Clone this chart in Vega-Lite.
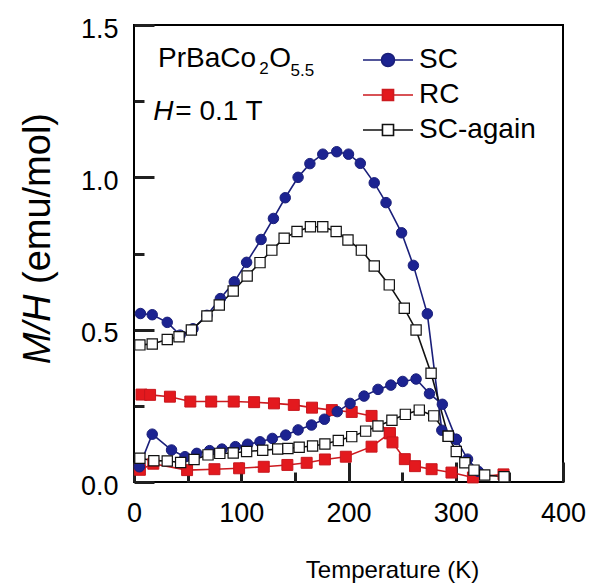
{
  "$schema": "https://vega.github.io/schema/vega-lite/v6.json",
  "autosize": "none",
  "width": 429,
  "height": 457,
  "padding": {"left": 134, "top": 25, "right": 26, "bottom": 102},
  "background": "white",
  "config": {
    "view": {"stroke": "black", "strokeWidth": 2},
    "font": "Liberation Sans"
  },
  "data": {"values": [
    {"s":"SC","b":"SCu","T":6,"M":0.553},{"s":"SC","b":"SCu","T":17,"M":0.549},{"s":"SC","b":"SCu","T":31,"M":0.524},{"s":"SC","b":"SCu","T":43,"M":0.482},{"s":"SC","b":"SCu","T":55,"M":0.503},{"s":"SC","b":"SCu","T":68,"M":0.547},{"s":"SC","b":"SCu","T":80.5,"M":0.602},{"s":"SC","b":"SCu","T":93.5,"M":0.657},{"s":"SC","b":"SCu","T":105,"M":0.721},{"s":"SC","b":"SCu","T":118.5,"M":0.796},{"s":"SC","b":"SCu","T":130,"M":0.865},{"s":"SC","b":"SCu","T":141,"M":0.933},{"s":"SC","b":"SCu","T":153,"M":1.0},{"s":"SC","b":"SCu","T":164,"M":1.045},{"s":"SC","b":"SCu","T":176,"M":1.076},{"s":"SC","b":"SCu","T":189,"M":1.084},{"s":"SC","b":"SCu","T":200,"M":1.076},{"s":"SC","b":"SCu","T":211,"M":1.046},{"s":"SC","b":"SCu","T":224,"M":0.982},{"s":"SC","b":"SCu","T":235,"M":0.917},{"s":"SC","b":"SCu","T":249.5,"M":0.818},{"s":"SC","b":"SCu","T":260.5,"M":0.711},{"s":"SC","b":"SCu","T":273.5,"M":0.552},{"s":"SC","b":"SCu","T":287,"M":0.17},{"s":"SC","b":"SCu","T":300.5,"M":0.14},{"s":"SC","b":"SCu","T":311,"M":0.075},{"s":"SC","b":"SCu","T":321,"M":0.035},
    {"s":"SC","b":"SCl","T":5,"M":0.05},{"s":"SC","b":"SCl","T":17,"M":0.157},{"s":"SC","b":"SCl","T":35,"M":0.105},{"s":"SC","b":"SCl","T":47.5,"M":0.083},{"s":"SC","b":"SCl","T":58.5,"M":0.094},{"s":"SC","b":"SCl","T":70.5,"M":0.103},{"s":"SC","b":"SCl","T":82,"M":0.108},{"s":"SC","b":"SCl","T":94.5,"M":0.116},{"s":"SC","b":"SCl","T":106,"M":0.124},{"s":"SC","b":"SCl","T":117.5,"M":0.132},{"s":"SC","b":"SCl","T":129,"M":0.143},{"s":"SC","b":"SCl","T":141.5,"M":0.154},{"s":"SC","b":"SCl","T":153,"M":0.171},{"s":"SC","b":"SCl","T":165.5,"M":0.187},{"s":"SC","b":"SCl","T":177.5,"M":0.206},{"s":"SC","b":"SCl","T":189.5,"M":0.231},{"s":"SC","b":"SCl","T":201.5,"M":0.258},{"s":"SC","b":"SCl","T":214.5,"M":0.282},{"s":"SC","b":"SCl","T":227.5,"M":0.304},{"s":"SC","b":"SCl","T":239.5,"M":0.318},{"s":"SC","b":"SCl","T":250.5,"M":0.33},{"s":"SC","b":"SCl","T":263,"M":0.338},{"s":"SC","b":"SCl","T":275.5,"M":0.29},{"s":"SC","b":"SCl","T":287.5,"M":0.255},{"s":"SC","b":"SCl","T":300.5,"M":0.14},
    {"s":"RC","b":"Ru","T":7,"M":0.287},{"s":"RC","b":"Ru","T":15,"M":0.286},{"s":"RC","b":"Ru","T":33.5,"M":0.28},{"s":"RC","b":"Ru","T":52.5,"M":0.264},{"s":"RC","b":"Ru","T":72,"M":0.264},{"s":"RC","b":"Ru","T":93,"M":0.264},{"s":"RC","b":"Ru","T":112,"M":0.262},{"s":"RC","b":"Ru","T":130.5,"M":0.258},{"s":"RC","b":"Ru","T":149,"M":0.253},{"s":"RC","b":"Ru","T":166,"M":0.244},{"s":"RC","b":"Ru","T":184.5,"M":0.236},{"s":"RC","b":"Ru","T":203,"M":0.23},{"s":"RC","b":"Ru","T":221.5,"M":0.217},{"s":"RC","b":"Ru","T":238.5,"M":0.16},
    {"s":"RC","b":"Rl","T":5.5,"M":0.04},{"s":"RC","b":"Rl","T":18,"M":0.06},{"s":"RC","b":"Rl","T":49.5,"M":0.039},{"s":"RC","b":"Rl","T":75,"M":0.042},{"s":"RC","b":"Rl","T":98,"M":0.045},{"s":"RC","b":"Rl","T":121,"M":0.05},{"s":"RC","b":"Rl","T":143,"M":0.056},{"s":"RC","b":"Rl","T":161,"M":0.063},{"s":"RC","b":"Rl","T":178,"M":0.074},{"s":"RC","b":"Rl","T":197.5,"M":0.083},{"s":"RC","b":"Rl","T":221.5,"M":0.116},{"s":"RC","b":"Rl","T":238.5,"M":0.16},{"s":"RC","b":"Rl","T":241,"M":0.13},{"s":"RC","b":"Rl","T":252.5,"M":0.075},{"s":"RC","b":"Rl","T":262,"M":0.052},{"s":"RC","b":"Rl","T":277.5,"M":0.042},{"s":"RC","b":"Rl","T":296,"M":0.031},{"s":"RC","b":"Rl","T":316,"M":0.015},{"s":"RC","b":"Rl","T":344.5,"M":0.025},
    {"s":"SC-again","b":"Au","T":5.5,"M":0.45},{"s":"SC-again","b":"Au","T":17,"M":0.453},{"s":"SC-again","b":"Au","T":31,"M":0.468},{"s":"SC-again","b":"Au","T":42,"M":0.477},{"s":"SC-again","b":"Au","T":53.5,"M":0.499},{"s":"SC-again","b":"Au","T":68,"M":0.545},{"s":"SC-again","b":"Au","T":79.5,"M":0.581},{"s":"SC-again","b":"Au","T":92.5,"M":0.627},{"s":"SC-again","b":"Au","T":105.5,"M":0.676},{"s":"SC-again","b":"Au","T":117.5,"M":0.72},{"s":"SC-again","b":"Au","T":128.5,"M":0.761},{"s":"SC-again","b":"Au","T":140,"M":0.8},{"s":"SC-again","b":"Au","T":152,"M":0.822},{"s":"SC-again","b":"Au","T":164.5,"M":0.838},{"s":"SC-again","b":"Au","T":176,"M":0.838},{"s":"SC-again","b":"Au","T":188.5,"M":0.822},{"s":"SC-again","b":"Au","T":199.5,"M":0.794},{"s":"SC-again","b":"Au","T":212,"M":0.761},{"s":"SC-again","b":"Au","T":224,"M":0.709},{"s":"SC-again","b":"Au","T":238,"M":0.647},{"s":"SC-again","b":"Au","T":252,"M":0.57},{"s":"SC-again","b":"Au","T":263,"M":0.499},{"s":"SC-again","b":"Au","T":277,"M":0.357},{"s":"SC-again","b":"Au","T":293,"M":0.15},{"s":"SC-again","b":"Au","T":300.5,"M":0.1},{"s":"SC-again","b":"Au","T":308.5,"M":0.063},{"s":"SC-again","b":"Au","T":317,"M":0.039},{"s":"SC-again","b":"Au","T":327,"M":0.023},{"s":"SC-again","b":"Au","T":345,"M":0.017},
    {"s":"SC-again","b":"Al","T":5.5,"M":0.078},{"s":"SC-again","b":"Al","T":18.5,"M":0.07},{"s":"SC-again","b":"Al","T":31,"M":0.069},{"s":"SC-again","b":"Al","T":43.5,"M":0.064},{"s":"SC-again","b":"Al","T":56,"M":0.074},{"s":"SC-again","b":"Al","T":69,"M":0.089},{"s":"SC-again","b":"Al","T":80,"M":0.094},{"s":"SC-again","b":"Al","T":92.5,"M":0.095},{"s":"SC-again","b":"Al","T":105,"M":0.1},{"s":"SC-again","b":"Al","T":120,"M":0.104},{"s":"SC-again","b":"Al","T":134,"M":0.108},{"s":"SC-again","b":"Al","T":143.5,"M":0.11},{"s":"SC-again","b":"Al","T":154,"M":0.114},{"s":"SC-again","b":"Al","T":166.5,"M":0.118},{"s":"SC-again","b":"Al","T":178,"M":0.125},{"s":"SC-again","b":"Al","T":190.5,"M":0.136},{"s":"SC-again","b":"Al","T":203,"M":0.149},{"s":"SC-again","b":"Al","T":216,"M":0.167},{"s":"SC-again","b":"Al","T":227.5,"M":0.184},{"s":"SC-again","b":"Al","T":240.5,"M":0.203},{"s":"SC-again","b":"Al","T":253,"M":0.222},{"s":"SC-again","b":"Al","T":266,"M":0.236},{"s":"SC-again","b":"Al","T":279.5,"M":0.217},{"s":"SC-again","b":"Al","T":293,"M":0.15}
  ]},
  "resolve": {"axis": {"x": "independent", "y": "independent"}},
  "layer": [
    {
      "mark": {"type": "line", "strokeWidth": 1.6},
      "encoding": {
        "x": {"field": "T", "type": "quantitative", "scale": {"domain": [0, 400], "nice": false, "zero": false},
          "axis": {"orient": "bottom", "offset": -20, "values": [0, 100, 200, 300, 400], "domain": false, "grid": false, "tickSize": 20, "tickWidth": 3, "tickColor": "#202020", "labelPadding": 18, "labelFlush": false, "labelFont": "Liberation Sans", "labelColor": "#000000", "labelFontSize": 27, "title": "Temperature (K)", "titleFont": "Liberation Sans", "titleColor": "#000000", "titleFontSize": 24, "titleFontWeight": "normal", "titleX": 258, "titleY": 115, "titleBaseline": "alphabetic", "titleAlign": "center"}},
        "y": {"field": "M", "type": "quantitative", "scale": {"domain": [0, 1.5], "nice": false, "zero": false},
          "axis": {"orient": "left", "offset": -20, "values": [0, 0.5, 1, 1.5], "format": ".1f", "domain": false, "grid": false, "tickSize": 20, "tickWidth": 3, "tickColor": "#202020", "labelPadding": 16, "labelFont": "Liberation Sans", "labelColor": "#000000", "labelFontSize": 27, "labelOffset": 4, "title": "(emu/mol)", "titleFont": "Liberation Sans", "titleColor": "#000000", "titleFontSize": 38, "titleFontWeight": "normal", "titleX": -116, "titleY": 173, "titleAngle": 270, "titleBaseline": "middle", "titleAlign": "center"}},
        "color": {"field": "s", "type": "nominal", "scale": {"domain": ["SC", "RC", "SC-again"], "range": ["#1a1f7a", "#cc1a1f", "#111111"]},
          "legend": {"title": null, "orient": "none", "legendX": 240, "legendY": 21, "padding": 0, "symbolSize": 169, "labelOffset": 17, "labelFontSize": 28, "labelFont": "Liberation Sans", "labelColor": "#000000", "rowPadding": 7, "labelBaseline": "middle",
            "encode": {"symbols": {"update": {
              "shape": {"signal": "datum.value === 'SC' ? 'M-3.85,0H-1M1,0H3.85M1,0A1,1,0,1,1,-1,0A1,1,0,1,1,1,0Z' : 'M-3.85,0H-0.85M0.85,0H3.85M-0.85,-0.85H0.85V0.85H-0.85Z'"},
              "fill": {"signal": "datum.value === 'SC' ? '#1c2391' : datum.value === 'RC' ? '#e3191e' : '#ffffff'"},
              "stroke": {"signal": "datum.value === 'SC' ? '#1a1f7a' : datum.value === 'RC' ? '#cc1a1f' : '#111111'"},
              "strokeWidth": {"value": 1.6},
              "opacity": {"value": 1},
              "fillOpacity": {"value": 1},
              "strokeOpacity": {"value": 1}
            }}}}},
        "detail": {"field": "b", "type": "nominal"}
      }
    },
    {
      "transform": [{"filter": "datum.s === 'RC'"}],
      "mark": {"type": "point", "shape": "square", "size": 120, "strokeWidth": 1, "opacity": 1, "fill": "#e3191e", "stroke": "#c8161d", "fillOpacity": 1},
      "encoding": {
        "x": {"field": "T", "type": "quantitative", "scale": {"domain": [0, 400], "nice": false, "zero": false}, "axis": null},
        "y": {"field": "M", "type": "quantitative", "scale": {"domain": [0, 1.5], "nice": false, "zero": false}, "axis": null}
      }
    },
    {
      "transform": [{"filter": "datum.s === 'SC'"}],
      "mark": {"type": "point", "shape": "circle", "size": 110, "strokeWidth": 1, "opacity": 1, "fill": "#1c2391", "stroke": "#1a1f7a", "fillOpacity": 1},
      "encoding": {
        "x": {"field": "T", "type": "quantitative", "scale": {"domain": [0, 400], "nice": false, "zero": false},
          "axis": {"orient": "bottom", "offset": -10, "values": [50, 150, 250, 350], "domain": false, "grid": false, "tickSize": 10, "tickWidth": 3, "tickColor": "#202020", "labels": false, "title": null}},
        "y": {"field": "M", "type": "quantitative", "scale": {"domain": [0, 1.5], "nice": false, "zero": false},
          "axis": {"orient": "left", "offset": -10, "values": [0.25, 0.75, 1.25], "domain": false, "grid": false, "tickSize": 10, "tickWidth": 3, "tickColor": "#202020", "labels": false, "title": "M/H", "titleFont": "Liberation Sans", "titleColor": "#000000", "titleFontSize": 38, "titleFontWeight": "normal", "titleFontStyle": "italic", "titleX": -106, "titleY": 304, "titleAngle": 270, "titleBaseline": "middle", "titleAlign": "center"}}
      }
    },
    {
      "transform": [{"filter": "datum.s === 'SC-again'"}],
      "mark": {"type": "point", "shape": "square", "size": 105, "strokeWidth": 1.2, "opacity": 1, "fill": "#ffffff", "stroke": "#111111", "fillOpacity": 1},
      "encoding": {
        "x": {"field": "T", "type": "quantitative", "scale": {"domain": [0, 400], "nice": false, "zero": false}, "axis": null},
        "y": {"field": "M", "type": "quantitative", "scale": {"domain": [0, 1.5], "nice": false, "zero": false}, "axis": null}
      }
    },
    {
      "data": {"values": [{}]},
      "mark": {"type": "text", "text": "PrBaCo", "fontSize": 28, "fontWeight": "normal", "align": "left", "baseline": "alphabetic", "font": "Liberation Sans", "fill": "#000000"},
      "encoding": {"x": {"datum": 22.4, "type": "quantitative", "scale": {"domain": [0, 400], "nice": false, "zero": false}, "axis": null}, "y": {"datum": 1.363, "type": "quantitative", "scale": {"domain": [0, 1.5], "nice": false, "zero": false}, "axis": null}}
    },
    {
      "data": {"values": [{}]},
      "mark": {"type": "text", "text": "2", "fontSize": 17, "fontWeight": "normal", "align": "left", "baseline": "alphabetic", "font": "Liberation Sans", "fill": "#000000"},
      "encoding": {"x": {"datum": 116.8, "type": "quantitative", "scale": {"domain": [0, 400], "nice": false, "zero": false}, "axis": null}, "y": {"datum": 1.34, "type": "quantitative", "scale": {"domain": [0, 1.5], "nice": false, "zero": false}, "axis": null}}
    },
    {
      "data": {"values": [{}]},
      "mark": {"type": "text", "text": "O", "fontSize": 28, "fontWeight": "normal", "align": "left", "baseline": "alphabetic", "font": "Liberation Sans", "fill": "#000000"},
      "encoding": {"x": {"datum": 126, "type": "quantitative", "scale": {"domain": [0, 400], "nice": false, "zero": false}, "axis": null}, "y": {"datum": 1.363, "type": "quantitative", "scale": {"domain": [0, 1.5], "nice": false, "zero": false}, "axis": null}}
    },
    {
      "data": {"values": [{}]},
      "mark": {"type": "text", "text": "5.5", "fontSize": 17, "fontWeight": "normal", "align": "left", "baseline": "alphabetic", "font": "Liberation Sans", "fill": "#000000"},
      "encoding": {"x": {"datum": 146, "type": "quantitative", "scale": {"domain": [0, 400], "nice": false, "zero": false}, "axis": null}, "y": {"datum": 1.334, "type": "quantitative", "scale": {"domain": [0, 1.5], "nice": false, "zero": false}, "axis": null}}
    },
    {
      "data": {"values": [{}]},
      "mark": {"type": "text", "text": "H", "fontSize": 28, "fontWeight": "normal", "fontStyle": "italic", "align": "left", "baseline": "alphabetic", "font": "Liberation Sans", "fill": "#000000"},
      "encoding": {"x": {"datum": 18, "type": "quantitative", "scale": {"domain": [0, 400], "nice": false, "zero": false}, "axis": null}, "y": {"datum": 1.188, "type": "quantitative", "scale": {"domain": [0, 1.5], "nice": false, "zero": false}, "axis": null}}
    },
    {
      "data": {"values": [{}]},
      "mark": {"type": "text", "text": "= 0.1 T", "fontSize": 28, "fontWeight": "normal", "align": "left", "baseline": "alphabetic", "font": "Liberation Sans", "fill": "#000000"},
      "encoding": {"x": {"datum": 38.5, "type": "quantitative", "scale": {"domain": [0, 400], "nice": false, "zero": false}, "axis": null}, "y": {"datum": 1.188, "type": "quantitative", "scale": {"domain": [0, 1.5], "nice": false, "zero": false}, "axis": null}}
    }
  ]
}
